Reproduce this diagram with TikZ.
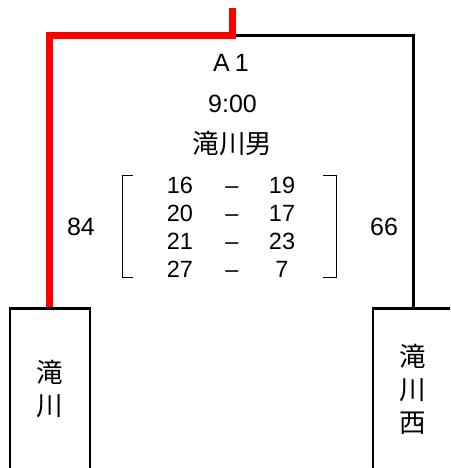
\documentclass[tikz,border=0pt]{standalone}
\usepackage{fontspec}
\setmainfont{Liberation Sans}
\newfontfamily\cjk{Noto Sans CJK JP}
\begin{document}
\begin{tikzpicture}[x=1pt,y=-1pt,
  boxst/.style={draw=black,line width=2.8pt,minimum width=80pt,minimum height=180pt,anchor=north,inner sep=0pt},
  redline/.style={draw=red,line width=7pt,line join=miter},
  blackline/.style={draw=black,line width=3pt,line join=miter},
  brk/.style={draw=black,line width=0.9pt},
  lbl/.style={font=\fontsize{25}{30}\selectfont,inner sep=0pt},
  sc/.style={font=\fontsize{23.5}{28}\selectfont,inner sep=0pt,anchor=base},
  cj/.style={font=\cjk\fontsize{26.5}{33}\selectfont,inner sep=0pt,align=center}]
\useasboundingbox (0,0) rectangle (450,468);
\clip (0,0) rectangle (450,468);
% boxes
\node[boxst] (lbox) at (50,307) {};
\node[boxst,minimum width=100pt] (rbox) at (423,307) {};
\node[cj] (ltext) at (50,389) {滝\\川};
\node[cj] (rtext) at (413,389) {滝\\川\\西};
% connectors
\coordinate (top) at (232.5,8);
\coordinate (joint) at (232.5,35.5);
\coordinate (lcorner) at (49.5,35.5);
\coordinate (rcorner) at (413.5,35.5);
\draw[blackline] (joint) -- (rcorner) -- (rcorner |- rbox.north);
\draw[redline] (top) -- (joint) -- (lcorner) -- (lcorner |- lbox.north);
% labels
\node[lbl,anchor=base] (game) at (231,72) {A\kern5pt 1};
\node[lbl,anchor=base] (time) at (232.5,112.5) {9:00};
\node[cj] (court) at (232.5,143.5) {滝川男};
\node[lbl,anchor=base] (lscore) at (81,235.5) {84};
\node[lbl,anchor=base] (rscore) at (384,235.5) {66};
% set scores
\foreach \a/\b [count=\i] in {16/19,20/17,21/23,27/7}{
  \node[sc] (l\i) at (180,193+28*\i-28) {\a};
  \node[sc] (d\i) at (232,193+28*\i-28) {–};
  \node[sc] (r\i) at (282,193+28*\i-28) {\b};
}
% brackets
\draw[brk] (133,175) -- (122.5,175) -- (122.5,277) -- (133,277);
\draw[brk] (323,175) -- (336,175) -- (336,277) -- (323,277);
\end{tikzpicture}
\end{document}
